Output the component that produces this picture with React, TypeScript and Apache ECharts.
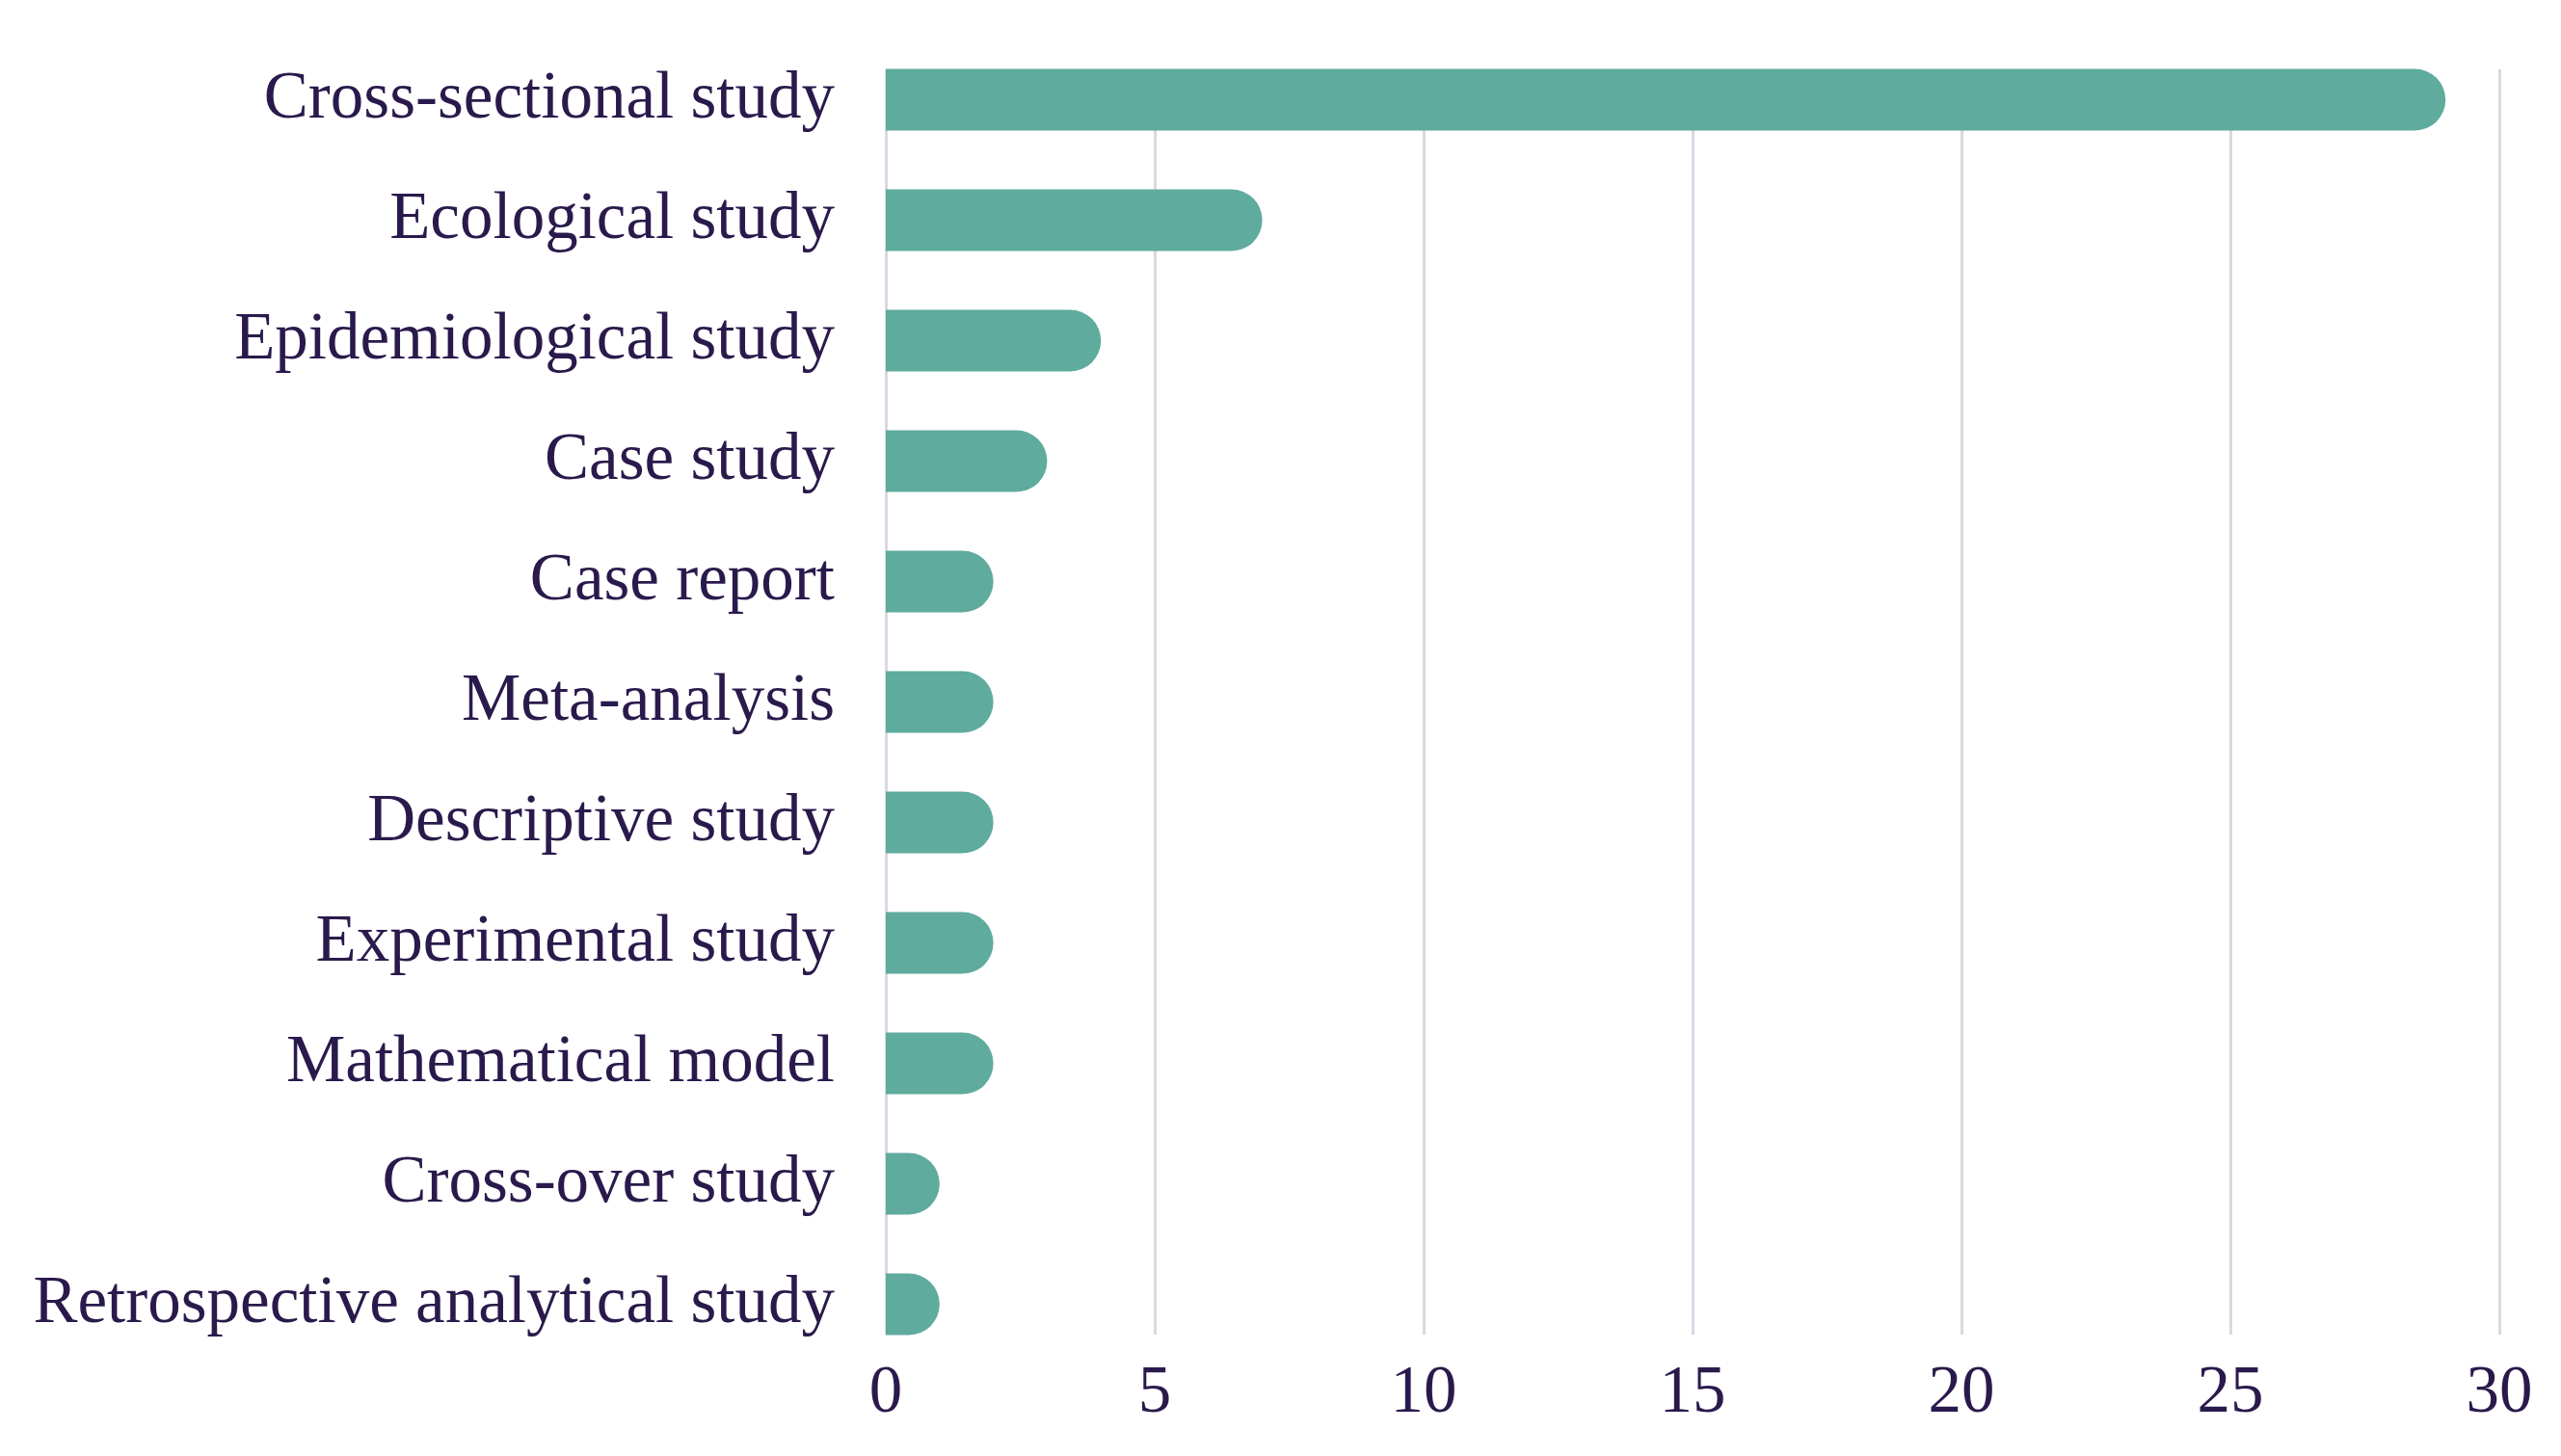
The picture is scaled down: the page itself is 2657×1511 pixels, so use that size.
import React, { useEffect, useRef } from "react";
import * as echarts from "echarts";

const categories = [
  "Cross-sectional study",
  "Ecological study",
  "Epidemiological study",
  "Case study",
  "Case report",
  "Meta-analysis",
  "Descriptive study",
  "Experimental study",
  "Mathematical model",
  "Cross-over study",
  "Retrospective analytical study",
];
const counts = [29, 7, 4, 3, 2, 2, 2, 2, 2, 1, 1];
const xMin = 0;
const xMax = 30;
const xStep = 5;

const TEXT = "#2a1a4c";
const BAR = "#5fab9e";
const GRID = "#dcd7e3";
const FONT = "'Liberation Serif', 'Times New Roman', serif";

export default function App() {
  const ref = useRef<HTMLDivElement>(null);
  useEffect(() => {
    if (!ref.current) return;
    const chart = echarts.init(ref.current, undefined, { renderer: "svg" });
    chart.setOption({
      animation: false,
      backgroundColor: "#ffffff",
      grid: [
        { left: 919, right: 64, top: 72, height: 1313 },
        { left: 919, right: 64, top: 41, height: 1375 },
      ],
      xAxis: [
        {
          type: "value",
          gridIndex: 0,
          min: xMin,
          max: xMax,
          interval: xStep,
          axisLine: { show: false },
          axisTick: { show: false },
          splitLine: { show: true, lineStyle: { color: GRID, width: 3 } },
          axisLabel: {
            color: TEXT,
            fontFamily: FONT,
            fontSize: 69,
            margin: 22,
          },
        },
        {
          type: "value",
          gridIndex: 1,
          min: xMin,
          max: xMax,
          interval: xStep,
          show: false,
          splitLine: { show: false },
        },
      ],
      yAxis: [
        {
          type: "category",
          gridIndex: 0,
          data: categories,
          show: false,
        },
        {
          type: "category",
          gridIndex: 1,
          data: categories,
          inverse: true,
          axisLine: { show: false },
          axisTick: { show: false },
          splitLine: { show: false },
          axisLabel: {
            margin: 53,
            formatter: (v: string) => "{a|" + v + "}",
            rich: {
              a: {
                color: TEXT,
                fontFamily: FONT,
                fontSize: 69,
                padding: [0, 0, 10, 0],
              },
            },
          },
        },
      ],
      series: [
        {
          type: "bar",
          xAxisIndex: 1,
          yAxisIndex: 1,
          data: counts,
          barWidth: 64,
          itemStyle: { color: BAR, borderRadius: [0, 32, 32, 0] },
        },
      ],
    });
    return () => chart.dispose();
  }, []);
  return (
    <div
      ref={ref}
      style={{ position: "fixed", left: 0, top: 0, width: 2657, height: 1511 }}
    />
  );
}
